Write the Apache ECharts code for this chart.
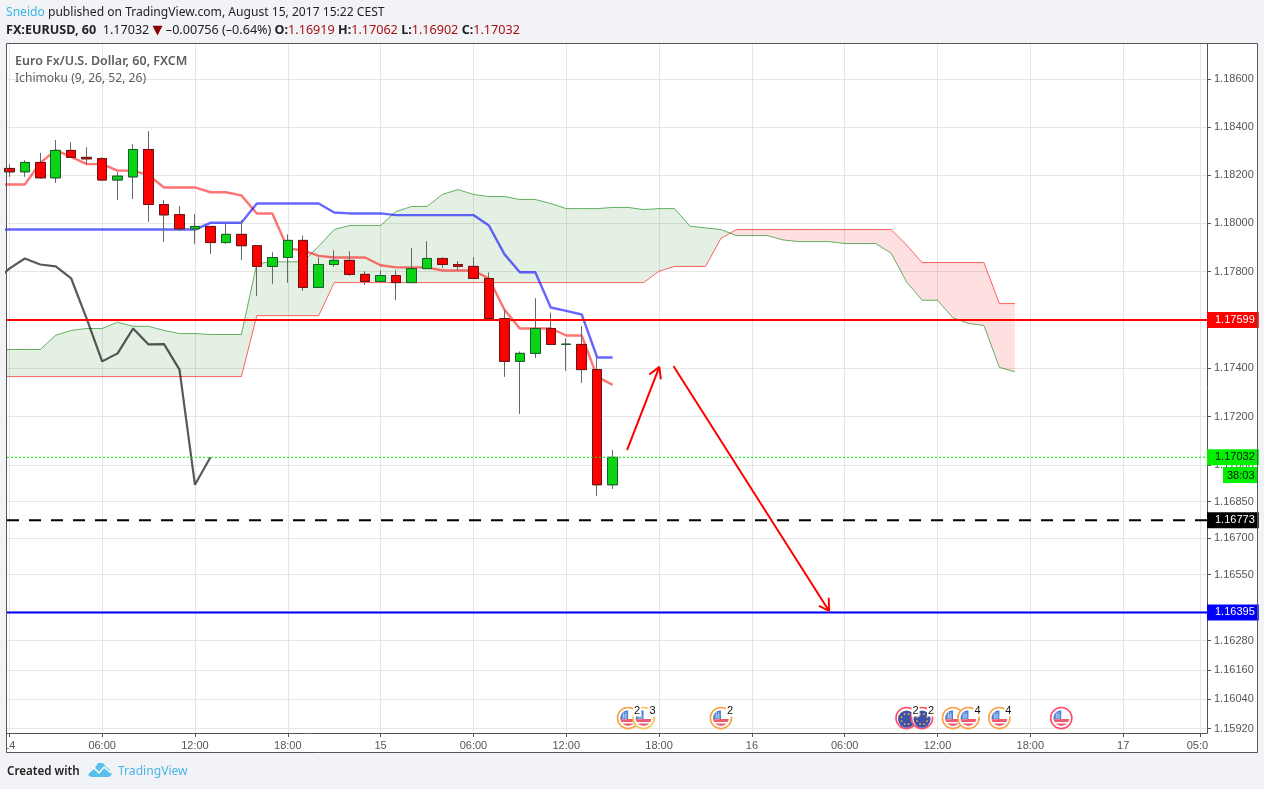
<!DOCTYPE html>
<html><head><meta charset="utf-8">
<style>html,body{margin:0;padding:0;background:#f1f3f6}#c{width:1264px;height:789px}</style>
<script src="https://cdn.jsdelivr.net/npm/echarts@6/dist/echarts.min.js"></script>
</head><body><div id="c"></div>
<script>
// hour index 0 = Aug 14 00:00
const opens =[1.18228,1.18214,1.18253,1.18189,1.18303,1.18274,1.18269,1.18180,1.18193,1.18307,1.18078,1.18036,1.17977,1.17987,1.17920,1.17954,1.17907,1.17821,1.17858,1.17929,1.17734,1.17829,1.17846,1.17788,1.17759,1.17783,1.17754,1.17812,1.17854,1.17829,1.17821,1.17771,1.17605,1.17428,1.17461,1.17564,1.17498,1.17498,1.17394,1.16919];
const closes=[1.18214,1.18253,1.18189,1.18303,1.18274,1.18268,1.18180,1.18196,1.18307,1.18078,1.18035,1.17977,1.17987,1.17920,1.17954,1.17907,1.17821,1.17858,1.17929,1.17734,1.17829,1.17846,1.17788,1.17759,1.17783,1.17754,1.17812,1.17854,1.17829,1.17821,1.17771,1.17605,1.17428,1.17461,1.17564,1.17498,1.17499,1.17394,1.16919,1.17032];
const lows  =[1.18193,1.18193,1.18185,1.18168,1.18274,1.18246,1.18176,1.18097,1.18101,1.18006,1.17923,1.17968,1.17915,1.17873,1.17915,1.17848,1.17699,1.17749,1.17753,1.17720,1.17734,1.17819,1.17782,1.17744,1.17759,1.17682,1.17754,1.17812,1.17814,1.17804,1.17771,1.17599,1.17364,1.17211,1.17442,1.17498,1.17389,1.17339,1.16873,1.16902];
const highs =[1.18246,1.18262,1.18293,1.18346,1.18337,1.18316,1.18275,1.18212,1.18329,1.18383,1.18096,1.18071,1.18038,1.17987,1.18002,1.18013,1.17907,1.17880,1.17954,1.17949,1.17858,1.17888,1.17884,1.17801,1.17805,1.17805,1.17897,1.17926,1.17859,1.17843,1.17859,1.17796,1.17640,1.17469,1.17689,1.17630,1.17523,1.17573,1.17442,1.17062];
// Ichimoku lines, first value at hour -1
const baseLine=[1.18161,1.18161,1.18161,1.18251,1.18304,1.18276,1.18246,1.18246,1.18219,1.18219,1.18200,1.18149,1.18149,1.18149,1.18129,1.18129,1.18116,1.18041,1.18041,1.17895,1.17888,1.17865,1.17858,1.17858,1.17858,1.17826,1.17817,1.17817,1.17817,1.17804,1.17804,1.17804,1.17771,1.17642,1.17564,1.17564,1.17564,1.17535,1.17535,1.17364,1.17331];
const convLine=[1.17974,1.17974,1.17974,1.17974,1.17974,1.17974,1.17974,1.17974,1.17974,1.17974,1.17974,1.17974,1.17974,1.17974,1.18002,1.18002,1.18002,1.18082,1.18082,1.18082,1.18082,1.18082,1.18045,1.18041,1.18041,1.18041,1.18034,1.18034,1.18034,1.18034,1.18034,1.18034,1.17991,1.17872,1.17797,1.17797,1.17651,1.17637,1.17622,1.17444,1.17444];
const lagLine=[1.17754,1.17812,1.17854,1.17829,1.17821,1.17771,1.17605,1.17428,1.17461,1.17564,1.17498,1.17499,1.17394,1.16919,1.17032];
const spanA=[1.17477,1.17477,1.17477,1.17477,1.17536,1.17556,1.17564,1.17564,1.17590,1.17573,1.17573,1.17556,1.17543,1.17543,1.17539,1.17539,1.17539,1.17833,1.17840,1.17840,1.17840,1.17905,1.17974,1.17991,1.17991,1.17991,1.18049,1.18070,1.18070,1.18120,1.18140,1.18120,1.18111,1.18111,1.18099,1.18099,1.18082,1.18061,1.18061,1.18061,1.18066,1.18066,1.18057,1.18061,1.18061,1.17988,1.17981,1.17974,1.17949,1.17949,1.17949,1.17931,1.17924,1.17924,1.17924,1.17916,1.17916,1.17916,1.17876,1.17757,1.17681,1.17681,1.17608,1.17585,1.17576,1.17403,1.17385];
const spanB=[1.17365,1.17365,1.17365,1.17365,1.17365,1.17365,1.17365,1.17365,1.17365,1.17365,1.17365,1.17365,1.17365,1.17365,1.17365,1.17365,1.17365,1.17617,1.17617,1.17617,1.17617,1.17617,1.17754,1.17754,1.17754,1.17754,1.17754,1.17754,1.17754,1.17754,1.17754,1.17754,1.17754,1.17754,1.17754,1.17754,1.17754,1.17754,1.17754,1.17754,1.17754,1.17754,1.17754,1.17801,1.17821,1.17821,1.17821,1.17937,1.17974,1.17974,1.17974,1.17974,1.17974,1.17974,1.17974,1.17974,1.17974,1.17974,1.17974,1.17910,1.17837,1.17837,1.17837,1.17837,1.17837,1.17667,1.17667];
// Hand-drawn arrows [hour, price]
const arrowUp=[[39.95,1.17065],[42.02,1.17405],[41.37,1.17374],[42.02,1.17405],[42.11,1.17357]];
const arrowDown=[[42.97,1.17405],[52.99,1.16401],[52.34,1.16422],[52.99,1.16401],[52.97,1.16452]];
// Horizontal price levels
const levelRed=1.17599, levelBlack=1.16773, levelBlue=1.16395, lastPrice=1.17032;
// Axes
const priceTicks=[1.186,1.184,1.182,1.18,1.178,1.176,1.174,1.172,1.17,1.1685,1.167,1.1655,1.164,1.1628,1.1616,1.1604,1.1592];
const timeTicks=[0,6,12,18,24,30,36,42,48,54,60,66,72,77];
const timeLabels=['14','06:00','12:00','18:00','15','06:00','12:00','18:00','16','06:00','12:00','18:00','17','05:00'];
// Economic events
const eventHours=[40,41,46,58,59,61,62,64,68];
const eventKinds=['us','us','us','eu','eu','us','us','us','us'];
const eventRings=['#f9a03f','#fcc54a','#f9a03f','#ff4a68','#ff4a68','#f9a03f','#f9a03f','#f9a03f','#ff4a68'];
const eventCounts=['2','3','2','2','2','','4','4',''];
const eventPrice=1.15963;

const hdr1={author:'Sneido',rest:' published on TradingView.com, August 15, 2017 15:22 CEST'};
const hdr2=['FX:EURUSD, 60','1.17032','▼','–0.00756 (–0.64%)','1.16919','1.17062','1.16902','1.17032'];

const chart=echarts.init(document.getElementById('c'));
const green='#0bd414',red='#ff0000';
const lineData=(vals,start)=>vals.map((v,i)=>[i+start,v]);
const X0=-0.15,X1=77.42,P0=1.15902,P1=1.18747;

function segPoly(cx,cy,r,y1,y2,xMax){
  const pts=[];const n=10;
  for(let k=0;k<=n;k++){const y=y1+(y2-y1)*k/n;const dx=Math.sqrt(Math.max(0,r*r-y*y));pts.push([cx+Math.min(dx,xMax===undefined?dx:xMax),cy+y]);}
  for(let k=n;k>=0;k--){const y=y1+(y2-y1)*k/n;const dx=Math.sqrt(Math.max(0,r*r-y*y));pts.push([cx-dx,cy+y]);}
  return pts;
}
function renderEvent(params,api){
  const i=params.dataIndex;const c=api.coord([api.value(0),api.value(1)]);const cx=c[0],cy=c[1];
  const kids=[{type:'circle',shape:{cx,cy,r:10.6},style:{fill:'#fff',stroke:eventRings[i],lineWidth:1.6}}];
  if(eventKinds[i]==='us'){
    kids.push({type:'polygon',shape:{points:segPoly(cx,cy,7.8,1,4)},style:{fill:'#ef5a6f'}});
    kids.push({type:'polygon',shape:{points:segPoly(cx,cy,7.8,5.5,8)},style:{fill:'#ef5a6f'}});
    kids.push({type:'polygon',shape:{points:segPoly(cx,cy,7.8,-7.6,1,0)},style:{fill:'#4a7fd6'}});
    for(let a=-1;a<2;a++){kids.push({type:'line',shape:{x1:cx-6,y1:cy+a*2-1,x2:cx-1,y2:cy+a*2-1},style:{stroke:'#fff',lineWidth:.6,opacity:.8}});}
    for(let a=0;a<2;a++){kids.push({type:'line',shape:{x1:cx-4.5+a*2.2,y1:cy-6,x2:cx-4.5+a*2.2,y2:cy},style:{stroke:'#fff',lineWidth:.6,opacity:.8}});}
  }else{
    kids.push({type:'circle',shape:{cx,cy:cy+1,r:8.6},style:{fill:'#3f51a8'}});
    [[-5,-1],[-2,-4],[2,-4],[5,-1],[5,3],[2,6],[-2,6],[-5,3]].forEach(p=>kids.push({type:'circle',shape:{cx:cx+p[0],cy:cy+p[1],r:.9},style:{fill:'#f2c230'}}));
  }
  if(eventCounts[i]) kids.push({type:'text',z2:20,x:cx+9,y:cy-7,style:{text:eventCounts[i],fill:'#111',font:'11px "Liberation Sans"',align:'center',verticalAlign:'middle',backgroundColor:'#fff',padding:[0,1]}});
  return {type:'group',children:kids};
}
function renderCloud(params,api){
  if(params.dataIndex!==0) return null;
  const up=[],dn=[],polys=[];
  const flush=col=>{ if(up.length>1){ polys.push({type:'polygon',shape:{points:up.concat(dn.slice().reverse())},style:{fill:col,stroke:null}}); } up.length=0;dn.length=0; };
  for(let k=0;k<spanA.length;k++){
    const x=k-1,a=api.coord([x,spanA[k]]),b=api.coord([x,spanB[k]]);
    if(k>0){
      const pa=api.coord([x-1,spanA[k-1]]),pb=api.coord([x-1,spanB[k-1]]);
      const d0=pb[1]-pa[1],d1=b[1]-a[1];
      if(d0*d1<0){const t=d0/(d0-d1);const px=pa[0]+(a[0]-pa[0])*t,py=pa[1]+(a[1]-pa[1])*t;up.push([px,py]);dn.push([px,py]);flush(d0>0?'rgba(0,110,0,.1)':'rgba(255,0,0,.12)');up.push([px,py]);dn.push([px,py]);}
    }
    up.push(a);dn.push(b);
  }
  const l=spanA.length-1;flush(spanA[l]>spanB[l]?'rgba(0,110,0,.1)':'rgba(255,0,0,.12)');
  return {type:'group',children:polys};
}
const lvl=(name,v,col,type,w,txt)=>({type:'line',name:name,symbol:'none',showSymbol:false,z:5,
  data:[[X0,v],[X1,v]],lineStyle:{color:col,type:type,width:w},
  endLabel:{show:true,distance:0,formatter:v.toFixed(5),color:txt,backgroundColor:col,fontFamily:'"Liberation Sans"',fontSize:11,padding:[3,4,2,8],lineHeight:11}});

const ui='"Noto Sans"';
chart.setOption({
 animation:false,backgroundColor:'#f1f3f6',
 grid:{left:7,right:57,top:44,bottom:56,containLabel:false},
 xAxis:{type:'value',min:X0,max:X1,
   axisLine:{show:true,onZero:false,lineStyle:{color:'#555',width:1}},
   axisTick:{show:true,length:4,customValues:timeTicks,lineStyle:{color:'#555'}},
   splitLine:{show:true,lineStyle:{color:'#e6e6e6',width:1}},
   axisLabel:{customValues:timeTicks,color:'#555',fontFamily:'"Liberation Sans"',fontSize:11,margin:7,hideOverlap:false,
     formatter:v=>timeLabels[timeTicks.indexOf(Math.round(v))]}},
 yAxis:{type:'log',logBase:10,min:P0,max:P1,position:'right',
   axisLine:{show:true,onZero:false,lineStyle:{color:'#555',width:1}},
   axisTick:{show:true,length:4,customValues:priceTicks,lineStyle:{color:'#555'}},
   splitLine:{show:true,lineStyle:{color:'#e6e6e6',width:1}},
   axisLabel:{customValues:priceTicks,color:'#555',fontFamily:'"Liberation Sans"',fontSize:11,margin:7,hideOverlap:false,padding:[5,0,0,0],
     formatter:v=>(+v).toFixed(5)}},
 series:[
  {type:'custom',name:'Cloud',renderItem:renderCloud,clip:true,silent:true,encode:{x:0,y:1},data:spanA.map((v,i)=>[i-1,v]),z:1},
  {type:'line',name:'Senkou A',showSymbol:false,symbol:'none',data:lineData(spanA,-1),lineStyle:{color:'#008000',width:1,opacity:.6},z:1},
  {type:'line',name:'Senkou B',showSymbol:false,symbol:'none',data:lineData(spanB,-1),lineStyle:{color:'#ff0000',width:1,opacity:.6},z:1},
  {type:'line',name:'Lagging',showSymbol:false,symbol:'none',data:lineData(lagLine,-1),lineStyle:{color:'#000',width:2.2,opacity:.65},z:2},
  {type:'line',name:'Base',showSymbol:false,symbol:'none',data:lineData(baseLine,-1),lineStyle:{color:'#ff0000',width:2.4,opacity:.55},z:2},
  {type:'line',name:'Conversion',showSymbol:false,symbol:'none',data:lineData(convLine,-1),lineStyle:{color:'#0000ff',width:2.4,opacity:.6},z:2},
  {type:'candlestick',name:'Wicks',barWidth:10,z:3,
    data:opens.map((o,i)=>[i,o,closes[i],lows[i],highs[i]]),
    itemStyle:{color:'#666',color0:'#666',borderColor:'#666',borderColor0:'#666',borderWidth:1}},
  {type:'candlestick',name:'EURUSD',barWidth:10,z:3,
    data:opens.map((o,i)=>[i,o,closes[i],Math.min(o,closes[i]),Math.max(o,closes[i])]),
    itemStyle:{color:green,color0:red,borderColor:'#14602c',borderColor0:'#6a1414',borderWidth:1}},
  lvl('Last price',lastPrice,'#00f000',[2,2],1,'#111'),
  lvl('Level red',levelRed,'#ff0000','solid',2,'#fff'),
  lvl('Level black',levelBlack,'#000000',[12,10],2,'#fff'),
  lvl('Level blue',levelBlue,'#0000ff','solid',2,'#fff'),
  {type:'line',name:'Arrow up',showSymbol:false,symbol:'none',data:arrowUp,lineStyle:{color:'#ff0000',width:2,cap:'round'},z:6},
  {type:'line',name:'Arrow down',showSymbol:false,symbol:'none',data:arrowDown,lineStyle:{color:'#ff0000',width:2,cap:'round'},z:6},
  {type:'custom',name:'Events',renderItem:renderEvent,clip:false,silent:true,encode:{x:0,y:1},data:eventHours.map(h=>[h,eventPrice]),z:7}
 ],
 graphic:[
  {type:'rect',z:-1,silent:true,shape:{x:6.5,y:43.5,width:1251,height:709},style:{fill:'#fff'}},
  {type:'rect',z:50,silent:true,shape:{x:1208,y:733,width:49.5,height:19.5},style:{fill:'#fff'}},
  {type:'rect',z:50,silent:true,shape:{x:0,y:734,width:7,height:18.5},style:{fill:'#f1f3f6'}},
  {type:'rect',z:60,silent:true,shape:{x:6.5,y:43.5,width:1251,height:709},style:{fill:null,stroke:'#555',lineWidth:1}},
  {type:'text',z:60,silent:true,x:1223,y:467,style:{text:'38:03',fill:'#111',font:'11px "Liberation Sans"',backgroundColor:'#00f000',padding:[3,4,2,4],width:26,align:'left'}},
  {type:'text',z:60,silent:true,x:6,y:7,style:{text:'{a|'+hdr1.author+'}{b|'+hdr1.rest+'}',rich:{a:{fill:'#3bb3e4',font:'12.1px '+ui},b:{fill:'#222',font:'12.1px '+ui}}}},
  {type:'text',z:60,silent:true,x:6,y:24,style:{text:'{k|'+hdr2[0]+'}{n|  '+hdr2[1]+' }{d|'+hdr2[2]+'}{n| '+hdr2[3]+' }{k|O:}{r|'+hdr2[4]+'} {k|H:}{r|'+hdr2[5]+'} {k|L:}{r|'+hdr2[6]+'} {k|C:}{r|'+hdr2[7]+'}',
    rich:{k:{fill:'#222',font:'bold 12.6px '+ui},n:{fill:'#222',font:'12.6px '+ui},r:{fill:'#a81010',font:'12.6px '+ui},d:{fill:'#8b0000',font:'13px "DejaVu Sans"'}}}},
  {type:'text',z:60,silent:true,x:15,y:55,style:{text:'Euro Fx/U.S. Dollar, 60, FXCM',fill:'#5d5d5d',font:'600 12.5px '+ui}},
  {type:'text',z:60,silent:true,x:15,y:73,style:{text:'Ichimoku (9, 26, 52, 26)',fill:'#5d5d5d',font:'12.1px '+ui}},
  {type:'text',z:60,silent:true,x:7,y:766,style:{text:'Created with',fill:'#222',font:'600 11.6px '+ui}},
  {type:'text',z:60,silent:true,x:118,y:766,style:{text:'TradingView',fill:'#4bb4e6',font:'12.1px '+ui}},
  {type:'polygon',z:60,silent:true,shape:{points:[[88,775],[91,769],[95,768],[98,763],[103,763],[106,767],[109,769],[112,774],[109,777],[91,777]]},style:{fill:'#56c0ea'}},
  {type:'polyline',z:61,silent:true,shape:{points:[[88,773],[94,768],[99,773],[104,767],[111,773]]},style:{stroke:'#fff',fill:null,lineWidth:1.5}}
 ]
});
</script></body></html>
